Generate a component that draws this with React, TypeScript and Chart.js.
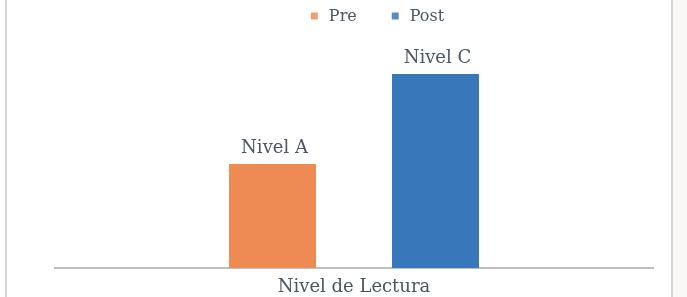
import React, { useEffect, useRef } from "react";
import { Chart, registerables } from "chart.js";

Chart.register(...registerables);

const categories = ["Nivel de Lectura"];
const seriesNames = ["Pre", "Post"];
const preValues = [44.4];
const postValues = [82.9];
const barLabels = ["Nivel A", "Nivel C"];
const seriesColors = ["#ee8b55", "#3877b9"];
const yMax = 100;

const FONT = "'DejaVu Serif', serif";
const TEXT = "#4a5661";

const labelPlugin = {
  id: "barLabels",
  afterDatasetsDraw(chart: any) {
    const ctx = chart.ctx;
    ctx.save();
    ctx.font = `18px ${FONT}`;
    ctx.fillStyle = TEXT;
    ctx.textAlign = "center";
    ctx.textBaseline = "alphabetic";
    chart.data.datasets.forEach((_: any, i: number) => {
      const meta = chart.getDatasetMeta(i);
      meta.data.forEach((bar: any) => {
        ctx.fillText(barLabels[i], bar.x + 2, bar.y - 11);
      });
    });
    ctx.restore();
  },
};

const legendPlugin = {
  id: "customLegend",
  afterDraw(chart: any) {
    const ctx = chart.ctx;
    ctx.save();
    ctx.font = `16px ${FONT}`;
    ctx.textBaseline = "middle";
    ctx.textAlign = "left";
    const box = 7;
    const gap = 11;
    const itemGap = 35;
    const items = chart.data.datasets.map((d: any) => ({
      label: d.label,
      color: d.backgroundColor,
      w: ctx.measureText(d.label).width,
    }));
    const total = items.reduce((s: number, it: any) => s + box + gap + it.w, 0) + itemGap * (items.length - 1);
    let x = 377.5 - total / 2;
    const cy = 16;
    items.forEach((it: any) => {
      ctx.fillStyle = it.color;
      ctx.globalAlpha = 0.85;
      ctx.fillRect(x, cy - box / 2, box, box);
      ctx.globalAlpha = 1;
      x += box + gap;
      ctx.fillStyle = TEXT;
      ctx.fillText(it.label, x, cy + 1);
      x += it.w + itemGap;
    });
    ctx.restore();
  },
};

const framePlugin = {
  id: "frame",
  beforeDraw(chart: any) {
    const ctx = chart.ctx;
    ctx.save();
    ctx.fillStyle = "#ffffff";
    ctx.fillRect(0, 0, chart.width, chart.height);
    ctx.fillStyle = "#faf8f7";
    ctx.fillRect(673, 0, chart.width - 673, chart.height);
    ctx.fillStyle = "#d4d4d4";
    ctx.fillRect(5, 0, 2, chart.height);
    ctx.fillRect(671, 0, 2, chart.height);
    ctx.restore();
  },
};

export default function App() {
  const ref = useRef<HTMLCanvasElement>(null);
  useEffect(() => {
    document.body.style.margin = "0";
    const chart = new Chart(ref.current!, {
      type: "bar",
      data: {
        labels: categories,
        datasets: [
          {
            label: seriesNames[0],
            data: preValues,
            backgroundColor: seriesColors[0],
            barPercentage: 0.534,
            categoryPercentage: 0.545,
          },
          {
            label: seriesNames[1],
            data: postValues,
            backgroundColor: seriesColors[1],
            barPercentage: 0.534,
            categoryPercentage: 0.545,
          },
        ],
      },
      options: {
        animation: false,
        responsive: false,
        maintainAspectRatio: false,
        layout: { padding: { left: 55, right: 34, top: 34, bottom: 0 } },
        plugins: {
          legend: { display: false },
          tooltip: { enabled: false },
        },
        scales: {
          x: {
            grid: { display: false, drawTicks: false },
            border: { display: true, color: "#bfbfbf", width: 2 },
            ticks: { color: TEXT, padding: 9, font: { family: FONT, size: 18 } },
            afterFit: (scale: any) => {
              scale.height = 29;
            },
          },
          y: {
            display: false,
            min: 0,
            max: yMax,
          },
        },
      },
      plugins: [labelPlugin, legendPlugin, framePlugin],
    });
    return () => chart.destroy();
  }, []);
  return <canvas ref={ref} width={687} height={297} style={{ display: "block" }} />;
}
